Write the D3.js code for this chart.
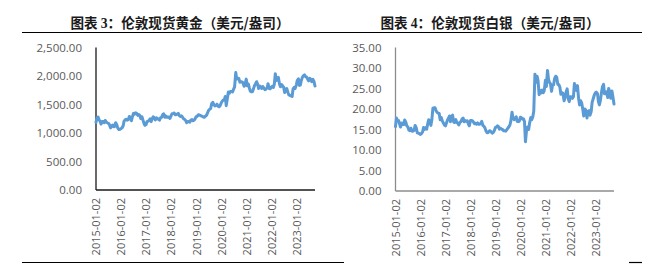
<!DOCTYPE html>
<html>
<head>
<meta charset="utf-8">
<script src="https://cdn.jsdelivr.net/npm/d3@7"></script>
<style>
  html, body { margin: 0; padding: 0; background: #fff; }
  svg { display: block; }
</style>
</head>
<body>
<div id="chart"></div>
<script>
// Data: semi-monthly readings (2nd and 16th of each month), 2015-01 .. 2023-10
const goldValues = [
    // 2015
    1186, 1265, 1280, 1228, 1210, 1155, 1200, 1200, 1180, 1220, 1190, 1180,
    1170, 1150, 1090, 1115, 1140, 1110, 1115, 1180, 1140, 1085, 1060, 1065,
    // 2016
    1075, 1090, 1125, 1210, 1230, 1240, 1225, 1230, 1290, 1275, 1215, 1285,
    1345, 1330, 1355, 1345, 1310, 1325, 1310, 1255, 1285, 1230, 1170, 1135,
    // 2017
    1150, 1200, 1210, 1225, 1250, 1200, 1250, 1285, 1265, 1230, 1265, 1255,
    1240, 1225, 1270, 1275, 1325, 1335, 1275, 1300, 1275, 1280, 1275, 1255,
    // 2018
    1305, 1340, 1345, 1350, 1320, 1320, 1330, 1345, 1305, 1290, 1300, 1280,
    1250, 1240, 1220, 1180, 1200, 1200, 1190, 1225, 1235, 1215, 1225, 1245,
    // 2019
    1285, 1290, 1320, 1315, 1310, 1300, 1290, 1280, 1275, 1295, 1310, 1350,
    1395, 1415, 1430, 1510, 1540, 1500, 1475, 1485, 1505, 1470, 1460, 1475,
    // 2020
    1525, 1555, 1580, 1580, 1640, 1480, 1610, 1720, 1700, 1730, 1730, 1720,
    1770, 1810, 2060, 1945, 1965, 1955, 1890, 1900, 1895, 1880, 1820, 1855,
    // 2021
    1945, 1830, 1860, 1790, 1735, 1725, 1725, 1770, 1830, 1860, 1900, 1860,
    1780, 1825, 1810, 1780, 1815, 1790, 1760, 1770, 1790, 1865, 1780, 1775,
    // 2022
    1805, 1820, 1800, 1860, 2040, 1920, 1935, 1975, 1860, 1810, 1850, 1830,
    1800, 1710, 1770, 1780, 1710, 1670, 1660, 1650, 1640, 1775, 1800, 1780,
    // 2023
    1840, 1920, 1950, 1835, 1840, 1920, 1980, 2005, 2020, 1990, 1980, 1945,
    1915, 1960, 1945, 1900, 1940, 1910, 1825
];

const silverValues = [
    // 2015
    15.7, 17.8, 17.2, 17.2, 16.4, 15.6, 16.6, 16.2, 16.2, 17.3, 16.8, 15.9,
    15.6, 14.9, 14.7, 15.3, 14.6, 14.6, 14.8, 16.0, 15.4, 14.2, 14.1, 14.0,
    // 2016
    13.8, 14.0, 14.4, 15.5, 15.0, 15.4, 15.1, 16.3, 17.4, 17.1, 16.0, 17.3,
    20.2, 20.3, 20.3, 19.6, 19.2, 19.0, 18.9, 17.4, 17.9, 17.1, 16.6, 16.1,
    // 2017
    15.9, 16.6, 17.4, 17.8, 18.3, 16.9, 18.2, 18.5, 16.8, 16.7, 17.4, 16.7,
    16.5, 16.1, 16.8, 16.9, 17.6, 17.8, 16.9, 17.2, 17.0, 17.1, 16.4, 15.9,
    // 2018
    17.2, 17.2, 17.1, 16.8, 16.4, 16.5, 16.3, 16.6, 16.3, 16.3, 16.5, 17.0,
    16.0, 15.8, 15.4, 14.7, 14.2, 14.2, 14.6, 14.7, 14.4, 14.1, 14.3, 14.7,
    // 2019
    15.5, 15.6, 15.9, 15.7, 15.1, 15.3, 15.1, 15.0, 14.7, 14.7, 14.6, 14.9,
    15.3, 15.6, 16.1, 17.1, 19.2, 17.8, 17.4, 17.7, 18.1, 17.0, 16.9, 17.0,
    // 2020
    18.0, 17.9, 17.5, 17.6, 17.0, 12.0, 15.0, 15.6, 15.0, 16.6, 17.9, 17.4,
    18.1, 19.5, 28.5, 26.5, 28.0, 27.0, 23.5, 24.5, 23.9, 24.6, 24.0, 24.5,
    // 2021
    27.0, 25.5, 29.4, 27.3, 26.5, 26.2, 24.3, 25.8, 25.9, 27.4, 28.0, 27.8,
    26.0, 26.0, 25.3, 23.6, 24.0, 23.8, 22.0, 22.8, 24.2, 24.9, 22.5, 21.8,
    // 2022
    23.0, 23.0, 22.6, 23.0, 26.2, 25.0, 24.5, 25.7, 22.6, 21.0, 22.0, 21.5,
    20.0, 18.3, 20.0, 19.7, 17.8, 19.3, 19.6, 18.5, 19.3, 21.6, 22.5, 23.3,
    // 2023
    23.9, 24.1, 23.8, 21.8, 21.0, 22.0, 24.0, 25.4, 26.0, 23.7, 23.7, 24.2,
    22.8, 25.0, 24.0, 22.6, 24.4, 23.0, 21.2
];

const xTickLabels = [
    "2015-01-02", "2016-01-02", "2017-01-02", "2018-01-02", "2019-01-02",
    "2020-01-02", "2021-01-02", "2022-01-02", "2023-01-02"
];
const goldTicks = [0, 500, 1000, 1500, 2000, 2500];
const silverTicks = [0, 5, 10, 15, 20, 25, 30, 35];

// sampling calendar for the value arrays above
const parseDate = d3.timeParse("%Y-%m-%d");
const sampleDates = [];
for (let y = 2015; y <= 2023; y++) {
    for (let m = 0; m < 12; m++) {
        for (const day of [2, 16]) {
            if (sampleDates.length < goldValues.length) sampleDates.push(new Date(y, m, day));
        }
    }
}

const width = 672, height = 264;
const svg = d3.select("#chart").append("svg")
    .attr("width", width)
    .attr("height", height);

const lineColor = "#5b9bd5";
const labelColor = "#595959";

// frame lines
svg.append("line")
    .attr("x1", 22).attr("x2", 642).attr("y1", 32.5).attr("y2", 32.5)
    .attr("stroke", "#000").attr("stroke-width", 1.2);
svg.append("line")
    .attr("x1", 22).attr("x2", 344).attr("y1", 262.5).attr("y2", 262.5)
    .attr("stroke", "#000").attr("stroke-width", 1.2);
svg.append("line")
    .attr("x1", 629).attr("x2", 642).attr("y1", 262.5).attr("y2", 262.5)
    .attr("stroke", "#000").attr("stroke-width", 1.2);

const panels = [
    {
        titleNum: "3", titleText: "伦敦现货黄金（美元/盎司）", titleX: 180,
        values: goldValues, ticks: goldTicks, max: 2500, fmt: d3.format(",.2f"),
        left: 96, right: 315, top: 47.5, bottom: 190, axisColor: "#1a1a1a"
    },
    {
        titleNum: "4", titleText: "伦敦现货白银（美元/盎司）", titleX: 490,
        values: silverValues, ticks: silverTicks, max: 35, fmt: d3.format(".2f"),
        left: 395.5, right: 614, top: 47.5, bottom: 191, axisColor: "#8c8c8c"
    }
];

panels.forEach(p => {
    const data = p.values.map((v, i) => ({ date: sampleDates[i], value: v }));

    const x = d3.scaleTime()
        .domain([parseDate(xTickLabels[0]), sampleDates[p.values.length - 1]])
        .range([p.left, p.right]);

    const y = d3.scaleLinear()
        .domain([0, p.max])
        .range([p.bottom, p.top]);

    // title
    const title = svg.append("text")
        .attr("x", p.titleX)
        .attr("y", 27.5)
        .attr("text-anchor", "middle")
        .attr("font-family", "'Noto Sans CJK SC', sans-serif")
        .attr("font-weight", "bold")
        .attr("font-size", 13.6)
        .attr("fill", "#1a1a1a");
    title.append("tspan").text("图表 ");
    title.append("tspan")
        .attr("font-family", "'Liberation Serif', serif")
        .text(p.titleNum);
    title.append("tspan").text("：" + p.titleText);

    // y axis labels
    const yAxis = svg.append("g")
        .attr("transform", `translate(${p.left},0)`)
        .call(d3.axisLeft(y).tickValues(p.ticks).tickFormat(p.fmt).tickSize(0).tickPadding(14))
        .call(g => g.select(".domain").remove());
    yAxis.selectAll("text")
        .attr("font-family", "'Open Sans', sans-serif")
        .attr("font-size", 11.5)
        .attr("fill", labelColor);

    // x axis labels (rotated)
    const xAxis = svg.append("g")
        .attr("transform", `translate(0,${p.bottom})`)
        .call(d3.axisBottom(x)
            .tickValues(xTickLabels.map(parseDate))
            .tickFormat(d3.timeFormat("%Y-%m-%d"))
            .tickSize(0))
        .call(g => g.select(".domain").remove());
    xAxis.selectAll("text")
        .attr("font-family", "'Open Sans', sans-serif")
        .attr("font-size", 11)
        .attr("fill", labelColor)
        .attr("text-anchor", "end")
        .attr("dy", "0.35em")
        .attr("transform", "translate(0,8) rotate(-90)")
        .attr("x", 0)
        .attr("y", 0);

    // axis lines
    svg.append("line")
        .attr("x1", p.left).attr("x2", p.left)
        .attr("y1", p.top).attr("y2", p.bottom)
        .attr("stroke", p.axisColor).attr("stroke-width", 1.3);
    svg.append("line")
        .attr("x1", p.left).attr("x2", p.right)
        .attr("y1", p.bottom).attr("y2", p.bottom)
        .attr("stroke", p.axisColor).attr("stroke-width", 1.3);

    // series
    const line = d3.line()
        .x(d => x(d.date))
        .y(d => y(d.value));

    svg.append("path")
        .datum(data)
        .attr("fill", "none")
        .attr("stroke", lineColor)
        .attr("stroke-width", 3)
        .attr("stroke-linejoin", "round")
        .attr("stroke-linecap", "round")
        .attr("d", line);
});
</script>
</body>
</html>
